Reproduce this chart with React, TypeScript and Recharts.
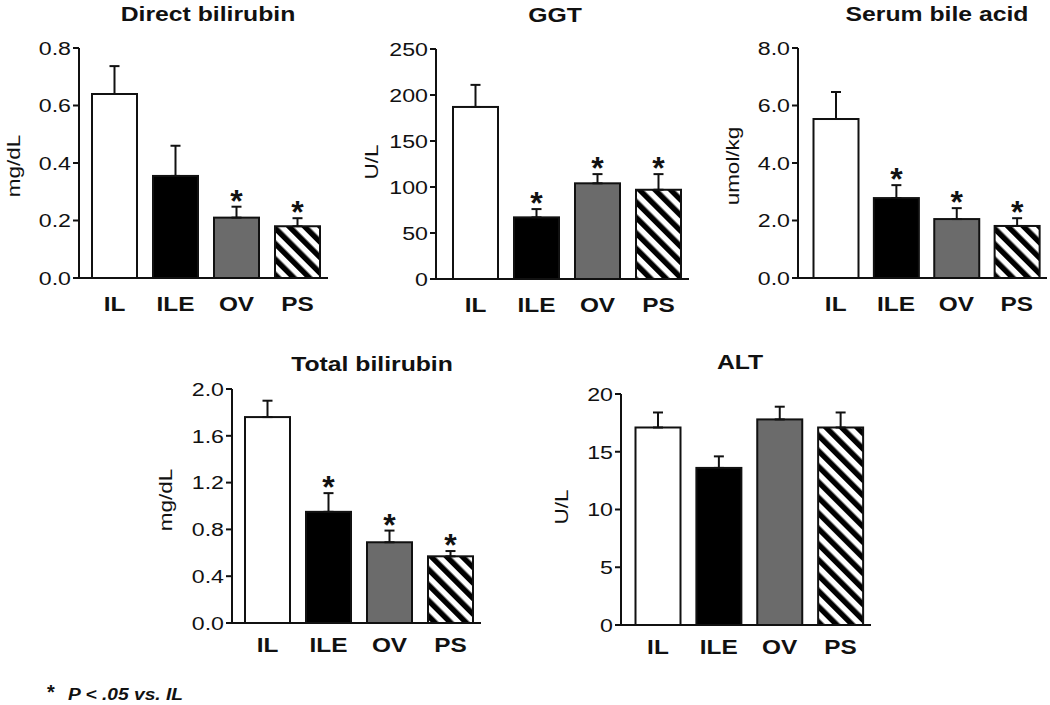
import React from 'react';
import { BarChart, Bar, XAxis, YAxis, ErrorBar } from 'recharts';

const groups = ['IL', 'ILE', 'OV', 'PS'];

const directBiliMean = [0.64, 0.355, 0.21, 0.18];
const directBiliSem = [0.097, 0.105, 0.038, 0.028];
const directBiliSig = [false, false, true, true];
const directBiliTicks = [0, 0.2, 0.4, 0.6, 0.8];

const ggtMean = [187, 67, 104, 97];
const ggtSem = [24, 9, 10, 17];
const ggtSig = [false, true, true, true];
const ggtTicks = [0, 50, 100, 150, 200, 250];

const bileAcidMean = [5.53, 2.78, 2.05, 1.81];
const bileAcidSem = [0.94, 0.45, 0.38, 0.27];
const bileAcidSig = [false, true, true, true];
const bileAcidTicks = [0, 2, 4, 6, 8];

const totalBiliMean = [1.76, 0.95, 0.69, 0.57];
const totalBiliSem = [0.14, 0.16, 0.1, 0.045];
const totalBiliSig = [false, true, true, true];
const totalBiliTicks = [0, 0.4, 0.8, 1.2, 1.6, 2.0];

const altMean = [17.1, 13.6, 17.8, 17.1];
const altSem = [1.3, 1.0, 1.1, 1.3];
const altSig = [false, false, false, false];
const altTicks = [0, 5, 10, 15, 20];

const FONT = '"Liberation Sans", Arial, Helvetica, sans-serif';
const INK = '#111';
const fills: Record<string, string> = { IL: '#ffffff', ILE: '#000000', OV: '#6b6b6b' };

function makeRows(mean: number[], sem: number[], sig: boolean[]) {
  return groups.map((g, i) => ({
    group: g,
    mean: mean[i],
    sem: sem[i],
    err: [0, sem[i]],
    sig: sig[i],
  }));
}

// the source figure uses a wide sans face, so text is stretched sideways
function ValueTick({ x, y, payload, decimals }: any) {
  return (
    <g transform={`translate(${x},${y}) scale(1.22,1)`}>
      <text x={0} y={0} dy="0.36em" textAnchor="end" fontFamily={FONT} fontSize={19} fill={INK}>
        {Number(payload.value).toFixed(decimals)}
      </text>
    </g>
  );
}

function GroupTick({ x, y, payload, gap }: any) {
  return (
    <g transform={`translate(${x},${y + gap}) scale(1.22,1)`}>
      <text x={0} y={0} textAnchor="middle" fontFamily={FONT} fontWeight="bold" fontSize={20} fill={INK}>
        {payload.value}
      </text>
    </g>
  );
}

function BarShape(props: any) {
  const { x, y, width, height, payload, hatch } = props;
  const fill = payload.group === 'PS' ? hatch : fills[payload.group];
  const errTop = y - (payload.sem / payload.mean) * height;
  return (
    <g>
      <rect x={x} y={y} width={width} height={height} fill={fill} stroke={INK} strokeWidth={2} />
      {payload.sig && (
        <text x={x + width / 2} y={errTop + 5} textAnchor="middle" fontFamily={FONT} fontWeight="bold" fontSize={32} fill={INK}>
          *
        </text>
      )}
    </g>
  );
}

interface PanelProps {
  id: string;
  rows: any[];
  ticks: number[];
  decimals: number;
  axisX: number;
  top: number;
  bottom: number;
  right: number;
  padLeft: number;
  gap: number;
}

function Panel({ id, rows, ticks, decimals, axisX, top, bottom, right, padLeft, gap }: PanelProps) {
  const AXW = 60;
  const MT = 10;
  const XH = 45;
  const MR = 2;
  const left = axisX - AXW;
  const width = right - left + MR;
  const height = bottom - top + MT + XH;
  const hatch = `url(#hatch-${id})`;
  return (
    <div style={{ position: 'absolute', left, top: top - MT, width, height }}>
      <BarChart width={width} height={height} data={rows} margin={{ top: MT, right: MR, bottom: 0, left: 0 }} barSize={45}>
        <defs>
          <pattern id={`hatch-${id}`} width={11} height={11} patternUnits="userSpaceOnUse" patternTransform="rotate(-45)">
            <rect width={11} height={11} fill="#fff" />
            <rect width={5.5} height={11} fill="#000" />
          </pattern>
        </defs>
        <XAxis
          dataKey="group"
          type="category"
          height={XH}
          padding={{ left: padLeft, right: 0 }}
          axisLine={{ stroke: INK, strokeWidth: 2 }}
          tickLine={false}
          tickSize={0}
          tickMargin={0}
          interval={0}
          tick={<GroupTick gap={gap} />}
        />
        <YAxis
          type="number"
          domain={[ticks[0], ticks[ticks.length - 1]]}
          ticks={ticks}
          interval={0}
          width={AXW}
          axisLine={{ stroke: INK, strokeWidth: 2 }}
          tickLine={{ stroke: INK, strokeWidth: 2 }}
          tickSize={6}
          tickMargin={2}
          tick={<ValueTick decimals={decimals} />}
        />
        <Bar dataKey="mean" isAnimationActive={false} shape={(p: any) => <BarShape {...p} hatch={hatch} />}>
          <ErrorBar dataKey="err" width={5} strokeWidth={2} stroke={INK} direction="y" />
        </Bar>
      </BarChart>
    </div>
  );
}

const titles = [
  { text: 'Direct bilirubin', x: 208, y: 21 },
  { text: 'GGT', x: 555, y: 22 },
  { text: 'Serum bile acid', x: 937, y: 21 },
  { text: 'Total bilirubin', x: 372, y: 371 },
  { text: 'ALT', x: 740, y: 369 },
];

const units = [
  { text: 'mg/dL', x: 15, y: 166 },
  { text: 'U/L', x: 373, y: 162 },
  { text: 'umol/kg', x: 734, y: 166 },
  { text: 'mg/dL', x: 167, y: 500 },
  { text: 'U/L', x: 563, y: 507 },
];

export default function App() {
  return (
    <div style={{ position: 'absolute', left: 0, top: 0, width: 1050, height: 705, overflow: 'hidden', background: '#fff' }}>
      <Panel id="db" rows={makeRows(directBiliMean, directBiliSem, directBiliSig)} ticks={directBiliTicks} decimals={1}
        axisX={79} top={48} bottom={278} right={328} padLeft={5} gap={33} />
      <Panel id="ggt" rows={makeRows(ggtMean, ggtSem, ggtSig)} ticks={ggtTicks} decimals={0}
        axisX={436} top={49} bottom={279} right={689} padLeft={9} gap={33} />
      <Panel id="ba" rows={makeRows(bileAcidMean, bileAcidSem, bileAcidSig)} ticks={bileAcidTicks} decimals={1}
        axisX={798} top={48} bottom={278} right={1047} padLeft={7.5} gap={33} />
      <Panel id="tb" rows={makeRows(totalBiliMean, totalBiliSem, totalBiliSig)} ticks={totalBiliTicks} decimals={1}
        axisX={232} top={389} bottom={623} right={481} padLeft={5} gap={29} />
      <Panel id="alt" rows={makeRows(altMean, altSem, altSig)} ticks={altTicks} decimals={0}
        axisX={621} top={394} bottom={625} right={871} padLeft={6.5} gap={29} />

      <svg width={1050} height={705} style={{ position: 'absolute', left: 0, top: 0, pointerEvents: 'none' }}>
        {titles.map((t) => (
          <g key={t.text} transform={`translate(${t.x},${t.y}) scale(1.27,1)`}>
            <text textAnchor="middle" fontFamily={FONT} fontWeight="bold" fontSize={19.5} fill={INK}>{t.text}</text>
          </g>
        ))}
        {units.map((u, i) => (
          <g key={i} transform={`translate(${u.x},${u.y}) rotate(-90) scale(1.25,1)`}>
            <text textAnchor="middle" dy="0.3em" fontFamily={FONT} fontSize={18} fill={INK}>{u.text}</text>
          </g>
        ))}
        <text x={51} y={699} textAnchor="middle" fontFamily={FONT} fontWeight="bold" fontSize={20} fill={INK}>*</text>
        <g transform="translate(68,700) scale(1.13,1)">
          <text fontFamily={FONT} fontWeight="bold" fontStyle="italic" fontSize={17} fill={INK}>P &lt; .05 vs. IL</text>
        </g>
      </svg>
    </div>
  );
}
